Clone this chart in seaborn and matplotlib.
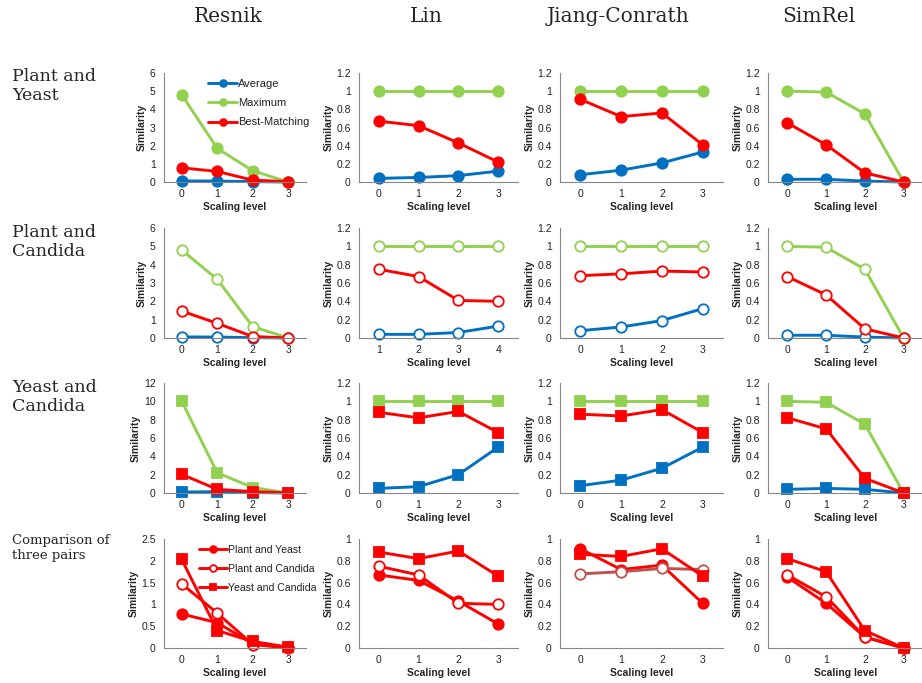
import matplotlib
matplotlib.use("Agg")
import numpy as np
import matplotlib.pyplot as plt
import seaborn as sns

sns.set_style("white")
plt.rcParams['font.family'] = ['Liberation Sans', 'DejaVu Sans']

measures = ["Resnik", "Lin", "Jiang-Conrath", "SimRel"]
row_labels = ["Plant and\nYeast", "Plant and\nCandida", "Yeast and\nCandida", "Comparison of\nthree pairs"]
series_names = ["Average", "Maximum", "Best-Matching"]
pair_names = ["Plant and Yeast", "Plant and Candida", "Yeast and Candida"]
levels = [0, 1, 2, 3]
level_labels = ["0", "1", "2", "3"]
lin_pc_labels = ["1", "2", "3", "4"]

# one list per measure: Resnik, Lin, Jiang-Conrath, SimRel
py_avg = [[0.06, 0.05, 0.02, 0.0], [0.04, 0.05, 0.07, 0.12], [0.08, 0.13, 0.21, 0.33], [0.03, 0.03, 0.01, 0.0]]
py_max = [[4.8, 1.85, 0.62, 0.0], [1, 1, 1, 1], [1, 1, 1, 1], [1.0, 0.99, 0.75, 0.0]]
py_bm = [[0.78, 0.58, 0.1, 0.02], [0.67, 0.62, 0.43, 0.22], [0.91, 0.72, 0.76, 0.41], [0.65, 0.41, 0.1, 0.0]]

pc_avg = [[0.06, 0.05, 0.02, 0.0], [0.04, 0.04, 0.06, 0.13], [0.08, 0.12, 0.19, 0.32], [0.03, 0.03, 0.01, 0.0]]
pc_max = [[4.8, 3.2, 0.62, 0.0], [1, 1, 1, 1], [1, 1, 1, 1], [1.0, 0.99, 0.75, 0.0]]
pc_bm = [[1.47, 0.8, 0.08, 0.0], [0.75, 0.67, 0.41, 0.40], [0.68, 0.70, 0.73, 0.72], [0.67, 0.47, 0.1, 0.0]]

yc_avg = [[0.1, 0.15, 0.05, 0.0], [0.05, 0.07, 0.2, 0.5], [0.08, 0.14, 0.27, 0.5], [0.04, 0.05, 0.04, 0.0]]
yc_max = [[10.0, 2.2, 0.6, 0.0], [1, 1, 1, 1], [1, 1, 1, 1], [1.0, 0.99, 0.75, 0.0]]
yc_bm = [[2.03, 0.4, 0.15, 0.02], [0.88, 0.82, 0.89, 0.66], [0.86, 0.84, 0.91, 0.66], [0.82, 0.70, 0.16, 0.0]]

blue, green, red = "#0070C0", "#92D050", "#FF0000"
grey = "#868686"

# y axis (max, step) for each row, Resnik first then the 0-1 measures
ylims = [[(6, 1), (1.2, 0.2), (1.2, 0.2), (1.2, 0.2)],
         [(6, 1), (1.2, 0.2), (1.2, 0.2), (1.2, 0.2)],
         [(12, 2), (1.2, 0.2), (1.2, 0.2), (1.2, 0.2)],
         [(2.5, 0.5), (1, 0.2), (1, 0.2), (1, 0.2)]]

W, H = 922, 683
fig = plt.figure(figsize=(W / 100, H / 100), dpi=100)

col_px = [(164, 306), (359, 518), (560, 723), (768, 923)]
row_px = [(73, 182), (228, 338), (383, 493), (539, 648)]

def style_axes(ax, ymax, ystep, xlabels):
    ax.set_xlim(-0.5, 3.5)
    ax.set_ylim(0, ymax)
    yt = np.arange(0, ymax + ystep / 2, ystep)
    ax.set_yticks(yt)
    ax.set_yticklabels([f"{v:g}" for v in yt])
    ax.set_xticks(levels)
    ax.set_xticklabels(xlabels)
    ax.set_xticks([-0.5, 0.5, 1.5, 2.5, 3.5], minor=True)
    ax.tick_params(axis="x", which="major", length=0, pad=5, labelsize=7.5, colors="#222222")
    ax.tick_params(axis="x", which="minor", length=4, width=0.8, color=grey, direction="out")
    ax.tick_params(axis="y", which="major", length=4, width=0.8, color=grey, direction="out",
                   labelsize=7.5, labelcolor="#222222", pad=2)
    for s in ["top", "right"]:
        ax.spines[s].set_visible(False)
    for s in ["left", "bottom"]:
        ax.spines[s].set_color(grey)
        ax.spines[s].set_linewidth(0.8)
    ax.set_xlabel("Scaling level", fontsize=7.5, fontweight="bold", labelpad=2)
    ax.set_ylabel("Similarity", fontsize=7.5, fontweight="bold", labelpad=2)
    ax.grid(False)

def draw(ax, y, color, marker, filled, label):
    face = color if filled else "white"
    ms = 7.5 if marker == "o" else 7.2
    sns.lineplot(x=levels, y=y, ax=ax, color=color, linewidth=2.1, marker=marker,
                 markersize=ms, markerfacecolor=face, markeredgecolor=color,
                 markeredgewidth=1.3, clip_on=False, label=label, legend=False)

pairs = [(py_avg, py_max, py_bm, "o", True),
         (pc_avg, pc_max, pc_bm, "o", False),
         (yc_avg, yc_max, yc_bm, "s", True)]

axes = {}
for r in range(4):
    for c in range(4):
        x0, x1 = col_px[c]
        y0, y1 = row_px[r]
        ax = fig.add_axes([x0 / W, 1 - y1 / H, (x1 - x0) / W, (y1 - y0) / H])
        axes[(r, c)] = ax
        if r < 3:
            avg, mx, bm, mk, filled = pairs[r]
            draw(ax, avg[c], blue, mk, filled, series_names[0])
            draw(ax, mx[c], green, mk, filled, series_names[1])
            draw(ax, bm[c], red, mk, filled, series_names[2])
        else:
            pc_color = "#C0504D" if c == 2 else red
            draw(ax, py_bm[c], red, "o", True, pair_names[0])
            draw(ax, pc_bm[c], pc_color, "o", False, pair_names[1])
            draw(ax, yc_bm[c], red, "s", True, pair_names[2])
        xl = lin_pc_labels if (r == 1 and c == 1) else level_labels
        style_axes(ax, ylims[r][c][0], ylims[r][c][1], xl)

for r in [0, 3]:
    ax = axes[(r, 0)]
    anchor = (0.28, 0.99) if r == 0 else (0.22, 0.985)
    leg = ax.legend(loc="upper left", bbox_to_anchor=anchor, frameon=False,
                    fontsize=8 if r == 0 else 7.6,
                    handlelength=2.6, handletextpad=0.1, labelspacing=0.85,
                    markerscale=0.65, borderaxespad=0)
    for t in leg.get_texts():
        t.set_color("#222222")

title_x = [228, 426, 618, 819]
for name, x in zip(measures, title_x):
    fig.text(x / W, 1 - 16 / H, name, ha="center", va="center",
             fontsize=14.5, family="DejaVu Serif")

label_y = [68, 224, 379, 534]
for r, (lab, y) in enumerate(zip(row_labels, label_y)):
    fs = 12.5 if r < 3 else 9.5
    fig.text(12 / W, 1 - y / H, lab, ha="left", va="top", fontsize=fs,
             family="DejaVu Serif", linespacing=1.15)

fig.savefig("out.png", dpi=100)
